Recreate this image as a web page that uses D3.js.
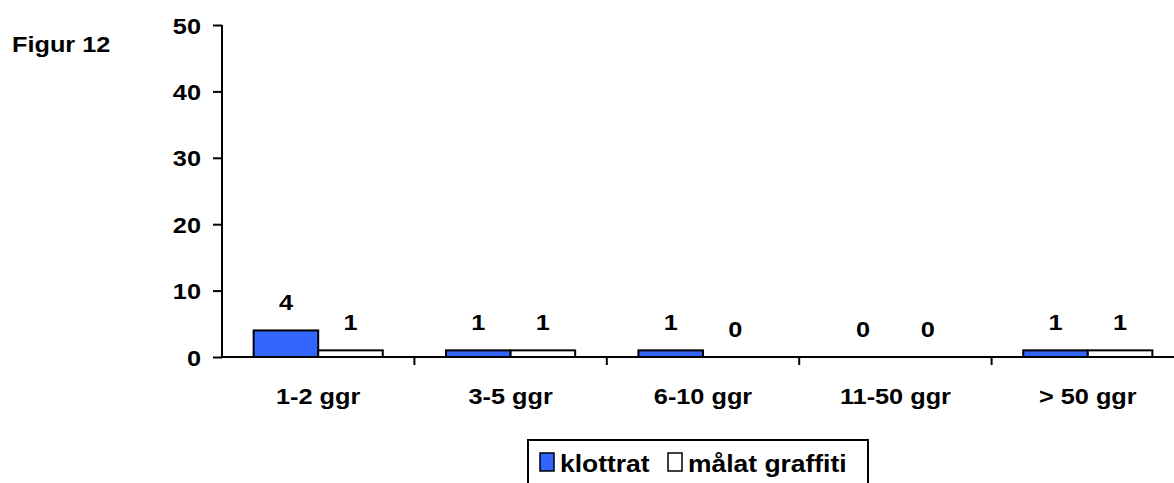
<!DOCTYPE html>
<html>
<head>
<meta charset="utf-8">
<script src="https://cdn.jsdelivr.net/npm/d3@7"></script>
<style>
  body { margin: 0; background: #fff; }
  svg text { font-family: "Liberation Sans", Arial, sans-serif; font-weight: bold; fill: #000; }
</style>
</head>
<body>
<div id="chart"></div>
<script>
// data
var categories = ["1-2 ggr", "3-5 ggr", "6-10 ggr", "11-50 ggr", "> 50 ggr"];
var seriesNames = ["klottrat", "målat graffiti"];
var klottrat = [4, 1, 1, 0, 1];
var malatGraffiti = [1, 1, 0, 0, 1];
var yTicks = [0, 10, 20, 30, 40, 50];
var colors = ["#3366FF", "#FFFFFF"];

var width = 1174, height = 483;
var stretch = 1.15;   // the original text is a bit wider than Arial

function at(x, y) {
    return "translate(" + x + "," + y + ") scale(" + stretch + ",1)";
}

var svg = d3.select("#chart").append("svg")
    .attr("width", width)
    .attr("height", height);

var x0 = d3.scaleBand()
    .domain(categories)
    .range([222, 1184])
    .paddingInner(0)
    .paddingOuter(0);

var x1 = d3.scaleBand()
    .domain(seriesNames)
    .range([0, x0.bandwidth()])
    .paddingInner(0)
    .paddingOuter(0.49);

var y = d3.scaleLinear()
    .domain([0, 50])
    .range([357, 25]);

svg.append("text")
    .attr("transform", at(12, 52))
    .style("font-size", "22px")
    .text("Figur 12");

// y axis
var yAxis = svg.append("g")
    .attr("transform", "translate(222,0)")
    .call(d3.axisLeft(y).tickValues(yTicks).tickSize(9).tickPadding(0));
yAxis.select(".domain").attr("stroke-width", 2).attr("d", "M0," + y(50) + "V" + y(0));
yAxis.selectAll(".tick line").attr("stroke-width", 2);
yAxis.selectAll(".tick text")
    .attr("x", 0)
    .attr("dy", null)
    .attr("transform", at(-21, 8))
    .style("font-size", "22px")
    .style("font-family", "Liberation Sans, Arial, sans-serif")
    .style("font-weight", "bold");

// x axis
var xAxis = svg.append("g")
    .attr("transform", "translate(0," + y(0) + ")");
xAxis.append("line")
    .attr("x1", 222).attr("x2", 1184)
    .attr("stroke", "#000").attr("stroke-width", 2);
xAxis.selectAll(".xtick")
    .data(categories.slice(1))
    .enter().append("line")
    .attr("x1", function(d) { return x0(d); })
    .attr("x2", function(d) { return x0(d); })
    .attr("y1", 0).attr("y2", 8)
    .attr("stroke", "#000").attr("stroke-width", 2);
xAxis.selectAll(".xlab")
    .data(categories)
    .enter().append("text")
    .attr("transform", function(d) { return at(x0(d) + x0.bandwidth() / 2, 47); })
    .attr("text-anchor", "middle")
    .style("font-size", "22px")
    .text(function(d) { return d; });

// bars
var rows = categories.map(function(c, i) {
    return { cat: c, vals: [klottrat[i], malatGraffiti[i]] };
});

var groups = svg.selectAll(".grp")
    .data(rows)
    .enter().append("g")
    .attr("transform", function(d) { return "translate(" + x0(d.cat) + ",0)"; });

groups.selectAll("rect")
    .data(function(d) { return d.vals.map(function(v, j) { return { s: seriesNames[j], v: v, j: j }; }); })
    .enter().append("rect")
    .filter(function(d) { return d.v > 0; })
    .attr("x", function(d) { return x1(d.s); })
    .attr("y", function(d) { return y(d.v); })
    .attr("width", x1.bandwidth())
    .attr("height", function(d) { return y(0) - y(d.v); })
    .attr("fill", function(d) { return colors[d.j]; })
    .attr("stroke", "#000")
    .attr("stroke-width", 2);

groups.selectAll(".val")
    .data(function(d) { return d.vals.map(function(v, j) { return { s: seriesNames[j], v: v }; }); })
    .enter().append("text")
    .attr("transform", function(d) { return at(x1(d.s) + x1.bandwidth() / 2, y(d.v) - 20); })
    .attr("text-anchor", "middle")
    .style("font-size", "22px")
    .text(function(d) { return d.v; });

// legend
var legend = svg.append("g").attr("transform", "translate(528,440)");
legend.append("rect")
    .attr("x", 0).attr("y", 0)
    .attr("width", 340).attr("height", 60)
    .attr("fill", "#fff").attr("stroke", "#000").attr("stroke-width", 2);
var legendX = [12, 140];
seriesNames.forEach(function(name, i) {
    legend.append("rect")
        .attr("x", legendX[i]).attr("y", 13)
        .attr("width", 14).attr("height", 18)
        .attr("fill", colors[i]).attr("stroke", "#000").attr("stroke-width", 1.5);
    legend.append("text")
        .attr("transform", at(legendX[i] + 20, 32))
        .style("font-size", "23px")
        .text(name);
});
</script>
</body>
</html>
